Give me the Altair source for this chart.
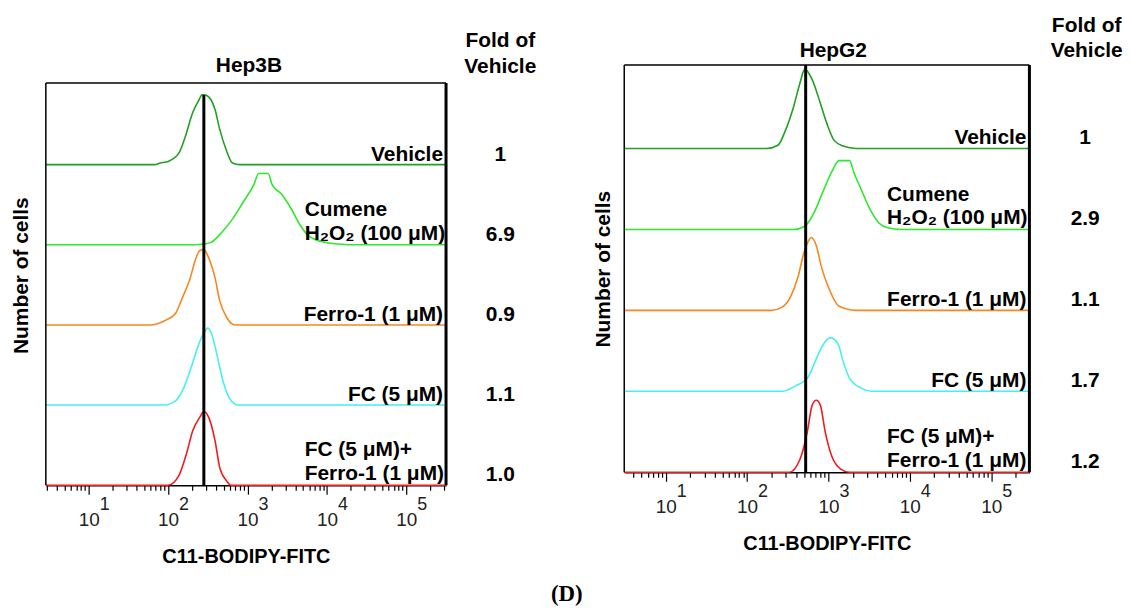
import altair as alt
import pandas as pd

FONT = "Liberation Sans"

# lane order, top to bottom, and the lane baseline (in lane units)
SERIES = ["Vehicle", "Cumene H2O2", "Ferro-1", "FC", "FC+Ferro-1"]
OFFSETS = [4, 3, 2, 1, 0]

# ---------------- Hep3B histograms: log10(FITC) and height (fraction of a lane)
hep3b_vehicle_logx = [0.46, 1.83, 1.9, 2.0, 2.14, 2.22, 2.31, 2.39, 2.43, 2.47, 2.54, 2.59, 2.65, 2.73, 2.81, 2.9, 5.5]
hep3b_vehicle_h = [0, 0, 0.02, 0.04, 0.15, 0.36, 0.65, 0.81, 0.875, 0.87, 0.81, 0.69, 0.44, 0.19, 0.02, 0, 0]

hep3b_cumene_logx = [0.46, 2.33, 2.45, 2.54, 2.68, 2.81, 2.95, 3.08, 3.14, 3.26, 3.31, 3.43, 3.55, 3.66, 3.76, 3.93, 4.14, 4.3, 5.5]
hep3b_cumene_h = [0, 0, 0.01, 0.03, 0.16, 0.32, 0.54, 0.75, 0.89, 0.89, 0.75, 0.63, 0.45, 0.25, 0.12, 0.04, 0.01, 0, 0]

hep3b_ferro_logx = [0.46, 1.78, 1.95, 2.09, 2.18, 2.28, 2.34, 2.4, 2.45, 2.51, 2.59, 2.65, 2.74, 2.84, 5.5]
hep3b_ferro_h = [0, 0, 0.05, 0.14, 0.34, 0.59, 0.8, 0.93, 0.94, 0.84, 0.59, 0.3, 0.09, 0, 0]

hep3b_fc_logx = [0.46, 1.94, 2.09, 2.2, 2.29, 2.39, 2.45, 2.5, 2.56, 2.63, 2.7, 2.79, 2.88, 5.5]
hep3b_fc_h = [0, 0, 0.05, 0.22, 0.47, 0.77, 0.9, 0.96, 0.85, 0.56, 0.27, 0.06, 0, 0]

hep3b_fcferro_logx = [0.46, 2.0, 2.14, 2.23, 2.31, 2.4, 2.45, 2.51, 2.59, 2.65, 2.74, 2.79, 5.5]
hep3b_fcferro_h = [0, 0, 0.13, 0.39, 0.68, 0.85, 0.92, 0.85, 0.56, 0.22, 0.05, 0, 0]

# ---------------- HepG2 histograms
hepg2_vehicle_logx = [0.49, 2.24, 2.38, 2.47, 2.57, 2.65, 2.71, 2.8, 2.9, 2.98, 3.07, 3.18, 3.34, 5.47]
hepg2_vehicle_h = [0, 0, 0.04, 0.22, 0.51, 0.81, 0.98, 0.85, 0.56, 0.31, 0.1, 0.03, 0, 0]

hepg2_cumene_logx = [0.49, 2.57, 2.71, 2.82, 2.93, 3.04, 3.13, 3.26, 3.31, 3.4, 3.51, 3.62, 3.73, 3.89, 5.47]
hepg2_cumene_h = [0, 0, 0.04, 0.2, 0.46, 0.71, 0.85, 0.85, 0.71, 0.5, 0.25, 0.08, 0.02, 0, 0]

hepg2_ferro_logx = [0.49, 2.3, 2.43, 2.54, 2.63, 2.69, 2.75, 2.79, 2.85, 2.91, 3.01, 3.13, 3.34, 5.47]
hepg2_ferro_h = [0, 0, 0.04, 0.18, 0.43, 0.68, 0.85, 0.9, 0.8, 0.55, 0.26, 0.05, 0, 0]

hepg2_fc_logx = [0.49, 2.43, 2.6, 2.74, 2.82, 2.91, 2.98, 3.03, 3.12, 3.18, 3.26, 3.4, 3.53, 5.47]
hepg2_fc_h = [0, 0, 0.07, 0.16, 0.33, 0.53, 0.64, 0.66, 0.58, 0.37, 0.16, 0.04, 0, 0]

hepg2_fcferro_logx = [0.49, 2.52, 2.65, 2.74, 2.8, 2.85, 2.9, 2.96, 3.04, 3.15, 3.26, 5.47]
hepg2_fcferro_h = [0, 0, 0.16, 0.5, 0.83, 0.89, 0.83, 0.5, 0.2, 0.04, 0, 0]

# reference (vehicle mean) line: log10 position and top (lane units)
hep3b_ref_line = [2.45, 4.87]
hepg2_ref_line = [2.72, 5.03]

# x-axis extents (log10) and frame top (lane units)
hep3b_xrange = [0.46, 5.50]
hepg2_xrange = [0.49, 5.47]
hep3b_frame_top = 5.02
hepg2_frame_top = 5.03

# labels
single_labels = ["Vehicle", "Ferro-1 (1 μM)", "FC (5 μM)"]
single_lanes = [4, 2, 1]
multi_labels = [["Cumene", "H₂O₂ (100 μM)"], ["FC (5 μM)+", "Ferro-1 (1 μM)"]]
multi_lanes = [3, 0]
multi_label_logx = 3.72

hep3b_fold = ["1", "6.9", "0.9", "1.1", "1.0"]
hepg2_fold = ["1", "2.9", "1.1", "1.7", "1.2"]

hep3b_colors = ["#22a022", "#2ee82e", "#f7881f", "#44f0f0", "#ee1c1c"]
hepg2_colors = ["#22a622", "#8fe53a", "#f7881f", "#33e8ee", "#ee1c1c"]

exponents = [1, 2, 3, 4, 5]


def curves_df(curves):
    rows = []
    for si, (lx, hh) in enumerate(curves):
        for i, (a, b) in enumerate(zip(lx, hh)):
            rows.append({"series": SERIES[si], "idx": i, "fl": 10 ** a, "y": OFFSETS[si] + b})
    return pd.DataFrame(rows)


def panel(title, curves, colors, ref_line, xr, frame_top, fold, W, H, ymax, p):
    lo, hi = 10 ** xr[0], 10 ** xr[1]
    ticks = []
    for k in range(0, 7):
        for m in range(1, 10):
            v = m * 10 ** k
            if lo <= v <= hi:
                ticks.append(v)
    dec = "abs(log(datum.value)/LN10 - round(log(datum.value)/LN10)) < 0.01"
    xscale = alt.Scale(type="log", domain=[lo, hi], nice=False)
    yscale = alt.Scale(domain=[0, ymax], nice=False)
    xaxis = alt.Axis(
        title="C11-BODIPY-FITC", values=ticks, grid=False,
        labelExpr=f"({dec}) ? '10' : ''", labelOverlap=False, labelFlush=False,
        tickSize={"condition": {"test": dec, "value": 9}, "value": 5},
        tickColor="black", tickWidth=1.2, domainColor="black", domainWidth=1.5,
        labelFont=FONT, labelFontSize=19, labelColor="#222", labelPadding=p["lpad"],
        titleFont=FONT, titleFontSize=20, titleFontWeight="bold", titleColor="black",
        titlePadding=p["tpad"],
    )
    yaxis = alt.Axis(
        title="Number of cells", domain=False, ticks=False, labels=False, grid=False,
        titleFont=FONT, titleFontSize=21, titleFontWeight="bold", titleColor="black",
        titlePadding=p["ypad"],
    )

    def X(f):
        return alt.X(f, type="quantitative", scale=xscale, axis=xaxis)

    def Y(f):
        return alt.Y(f, type="quantitative", scale=yscale, axis=yaxis)

    df = curves_df(curves)
    lines = alt.Chart(df).mark_line(strokeWidth=1.6, interpolate="monotone").encode(
        x=X("fl"), y=Y("y"),
        color=alt.Color("series:N", scale=alt.Scale(domain=SERIES, range=colors), legend=None),
        order=alt.Order("idx:Q"),
    )

    frame_df = pd.DataFrame({"bot": [0.0], "top": [frame_top]})
    top_border = alt.Chart(frame_df).mark_rule(color="black", strokeWidth=1.5).encode(
        x=alt.value(0), x2=alt.value(W), y=Y("top")
    )
    left_border = alt.Chart(frame_df).mark_rule(color="black", strokeWidth=1.5).encode(
        x=alt.value(0), y=Y("bot"), y2=alt.Y2("top")
    )
    right_border = alt.Chart(frame_df).mark_rule(color="black", strokeWidth=3).encode(
        x=alt.value(W), y=Y("bot"), y2=alt.Y2("top")
    )

    ref = alt.Chart(pd.DataFrame({"fl": [10 ** ref_line[0]], "bot": [0.0], "top": [ref_line[1]]})).mark_rule(
        color="black", strokeWidth=3
    ).encode(x=X("fl"), y=Y("bot"), y2=alt.Y2("top"))

    dummy = pd.DataFrame({"a": [0]})

    lab_style = dict(font=FONT, fontSize=21, fontWeight="bold", color="black", baseline="alphabetic")
    single = alt.Chart(pd.DataFrame({"lab": single_labels, "y": single_lanes})).mark_text(
        align="right", dx=-3, dy=-4, **lab_style
    ).encode(x=alt.value(W), y=Y("y"), text="lab:N")

    multi = alt.Chart(pd.DataFrame({"lab": multi_labels, "y": multi_lanes,
                                    "fl": [10 ** multi_label_logx] * 2})).mark_text(
        align="left", dy=-29, lineHeight=24, **lab_style
    ).encode(x=X("fl"), y=Y("y"), text="lab")

    folds = alt.Chart(pd.DataFrame({"lab": fold, "y": OFFSETS})).mark_text(
        align="center", dy=-4, **lab_style
    ).encode(x=alt.value(W + p["fold_dx"]), y=Y("y"), text="lab:N")

    fold_head = alt.Chart(dummy).mark_text(
        text=["Fold of", "Vehicle"], align="center", lineHeight=p["fold_lh"], **lab_style
    ).encode(x=alt.value(W + p["head_dx"]), y=alt.value(p["head_y"]))

    ttl = alt.Chart(dummy).mark_text(text=title, align="center", **lab_style).encode(
        x=alt.value(W / 2 + p["title_dx"]), y=alt.value(p["title_y"])
    )

    sup = alt.Chart(pd.DataFrame({"fl": [10 ** e for e in exponents], "e": [str(e) for e in exponents]})).mark_text(
        align="left", baseline="alphabetic", dx=11, font=FONT, fontSize=18, color="#222"
    ).encode(x=X("fl"), y=alt.value(H + 25), text="e:N")

    spacer = alt.Chart(dummy).mark_rule(color="white", strokeWidth=1).encode(
        x=alt.value(0), x2=alt.value(2), y=alt.value(p["spacer_y"]), y2=alt.value(p["spacer_y"])
    )

    return alt.layer(lines, top_border, left_border, right_border, ref, single, multi, folds,
                     fold_head, ttl, sup, spacer).properties(width=W, height=H)


hep3b_curves = [
    (hep3b_vehicle_logx, hep3b_vehicle_h),
    (hep3b_cumene_logx, hep3b_cumene_h),
    (hep3b_ferro_logx, hep3b_ferro_h),
    (hep3b_fc_logx, hep3b_fc_h),
    (hep3b_fcferro_logx, hep3b_fcferro_h),
]
hepg2_curves = [
    (hepg2_vehicle_logx, hepg2_vehicle_h),
    (hepg2_cumene_logx, hepg2_cumene_h),
    (hepg2_ferro_logx, hepg2_ferro_h),
    (hepg2_fc_logx, hepg2_fc_h),
    (hepg2_fcferro_logx, hepg2_fcferro_h),
]

# left panel: 80.5 px per lane, plot area extends 17 px above its frame
left = panel("Hep3B", hep3b_curves, hep3b_colors, hep3b_ref_line, hep3b_xrange, hep3b_frame_top,
             hep3b_fold, 402, 422, 422 / 80.5,
             dict(lpad=16, tpad=18, ypad=14, fold_dx=54.5, head_dx=54.5, head_y=-18, fold_lh=26,
                  title_dx=3, title_y=7, spacer_y=-55))
right = panel("HepG2", hepg2_curves, hepg2_colors, hepg2_ref_line, hepg2_xrange, hepg2_frame_top,
              hepg2_fold, 407, 409, 5.03,
              dict(lpad=16, tpad=18, ypad=11, fold_dx=56, head_dx=57.5, head_y=-33, fold_lh=25,
                   title_dx=6.5, title_y=-8, spacer_y=-55))

chart = alt.hconcat(left, right, spacing=56).properties(
    title=alt.TitleParams("(D)", orient="bottom", anchor="middle", font="Liberation Serif",
                          fontSize=23, fontWeight="bold", color="black", offset=16),
    padding={"left": 3, "top": 0, "right": 0, "bottom": 5},
).configure_view(strokeWidth=0)

chart.save("out.html", embed_options={"renderer": "svg", "actions": False})
